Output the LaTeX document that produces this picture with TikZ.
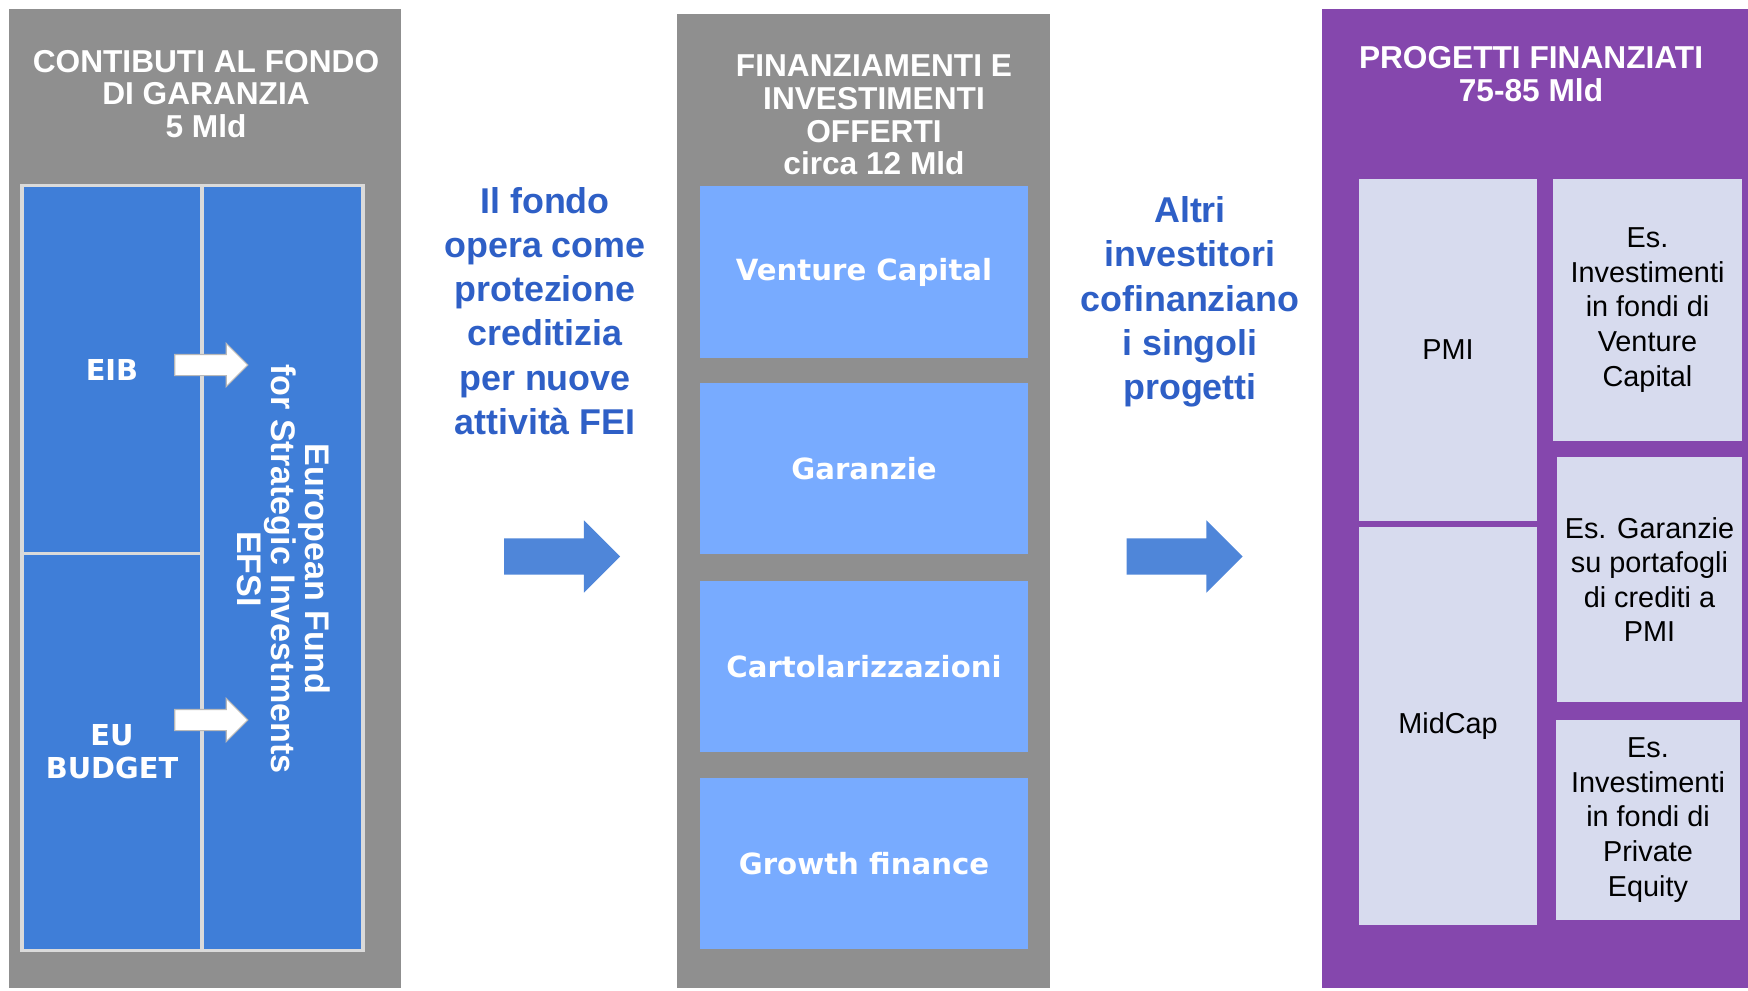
\documentclass[tikz,border=0pt]{standalone}
\usepackage{fontspec}
\setmainfont{Liberation Sans}
\newfontfamily\widefont{DejaVu Sans}
\usepackage{xcolor}
\usetikzlibrary{shapes.arrows}
\definecolor{panelgray}{HTML}{8F8F8F}
\definecolor{eibblue}{HTML}{3F7ED8}
\definecolor{cellline}{HTML}{DADADA}
\definecolor{offerblue}{HTML}{78ABFF}
\definecolor{arrowblue}{HTML}{4F86D9}
\definecolor{notetext}{HTML}{2E5FC6}
\definecolor{projpurple}{HTML}{8547AD}
\definecolor{lavender}{HTML}{D7DBEE}

\begin{document}
\begin{tikzpicture}[x=0.01cm,y=-0.01cm,
    panel/.style={inner sep=0pt,outer sep=0pt},
    title/.style={text=white,font=\bfseries\fontsize{9}{9.25}\selectfont,align=center,inner sep=0pt},
    cell/.style={fill=eibblue,draw=cellline,line width=0.9pt,inner sep=0pt,text=white,align=center,
        font=\widefont\bfseries\fontsize{8.2}{9.4}\selectfont},
    offer/.style={fill=offerblue,text=white,font=\widefont\bfseries\fontsize{8.3}{10}\selectfont,
        minimum width=3.28cm,minimum height=1.71cm,inner sep=0pt},
    proj/.style={fill=lavender,text=black,font=\fontsize{8.2}{9.85}\selectfont,align=center,inner sep=0pt},
    note/.style={text=notetext,font=\bfseries\fontsize{10.2}{12.6}\selectfont,align=center,inner sep=0pt},
    bigarrow/.style={single arrow,fill=arrowblue,minimum height=1.16cm,inner xsep=0pt,inner ysep=0.175cm,
        single arrow head extend=0.18cm,single arrow head indent=0pt},
    smallarrow/.style={single arrow,fill=white,draw=gray!55,line width=0.3pt,minimum height=0.73cm,
        inner xsep=0pt,inner ysep=0.1cm,single arrow head extend=0.11cm}]

    \useasboundingbox (0,0) rectangle (1748,990);

    % three columns
    \node[panel,fill=panelgray,minimum width=3.92cm,minimum height=9.79cm] (contrib) at (205,498.5) {};
    \node[panel,fill=panelgray,minimum width=3.73cm,minimum height=9.74cm] (offers) at (863.5,501) {};
    \node[panel,fill=projpurple,minimum width=4.26cm,minimum height=9.79cm] (projects) at (1535,498.5) {};

    \node[title] (contribtitle) at (206,94) {CONTIBUTI AL FONDO\\DI GARANZIA\\5 Mld};
    \node[title] (offerstitle) at (874,115) {FINANZIAMENTI E\\INVESTIMENTI\\OFFERTI\\circa 12 Mld};
    \node[title] (projtitle) at (1531,74) {PROGETTI FINANZIATI\\75-85 Mld};

    % guarantee fund
    \node[cell,minimum width=1.8cm,minimum height=3.68cm] (eib) at (112,370) {EIB};
    \node[cell,minimum width=1.8cm,minimum height=3.96cm] (eu) at (112,752) {EU\\BUDGET};
    \node[cell,minimum width=1.61cm,minimum height=7.64cm] (efsi) at (282.5,568) {};
    \node[rotate=-90,text=white,align=center,inner sep=0pt,
        font=\bfseries\fontsize{9.7}{9.7}\selectfont] (efsitext) at (284,569)
        {European Fund\\for Strategic Investments\\EFSI};
    \node[smallarrow] (eibarrow) at (206,365) {};
    \node[smallarrow] (euarrow) at (206,720) {};

    % offers
    \node[offer] (venture) at (864,272) {Venture Capital};
    \node[offer] (garanzie) at (864,468.5) {Garanzie};
    \node[offer] (cartol) at (864,666.5) {Cartolarizzazioni};
    \node[offer] (growth) at (864,863.5) {Growth finance};

    % projects
    \node[proj,minimum width=1.78cm,minimum height=3.42cm] (pmi) at (1448,350) {PMI};
    \node[proj,minimum width=1.78cm,minimum height=3.98cm] (midcap) at (1448,726) {MidCap};
    \node[proj,minimum width=1.89cm,minimum height=2.62cm] (vcfunds) at (1647.5,310)
        {Es.\\Investimenti\\in fondi di\\Venture\\Capital};
    \node[proj,minimum width=1.85cm,minimum height=2.45cm] (portfolio) at (1649.5,579.5)
        {Es. Garanzie\\su portafogli\\di crediti a\\PMI};
    \node[proj,minimum width=1.84cm,minimum height=2.0cm] (pefunds) at (1648,820)
        {Es.\\Investimenti\\in fondi di\\Private\\Equity};

    % between the columns
    \node[note] (protection) at (545,311) {Il fondo\\opera come\\protezione\\creditizia\\per nuove\\attivit\`a FEI};
    \node[note] (coinvest) at (1190,302) {Altri\\investitori\\cofinanziano\\i singoli\\progetti};
    \node[bigarrow] (toofferarrow) at (553,556.5) {};
    \node[bigarrow] (toprojarrow) at (1175.5,556.5) {};
\end{tikzpicture}
\end{document}
